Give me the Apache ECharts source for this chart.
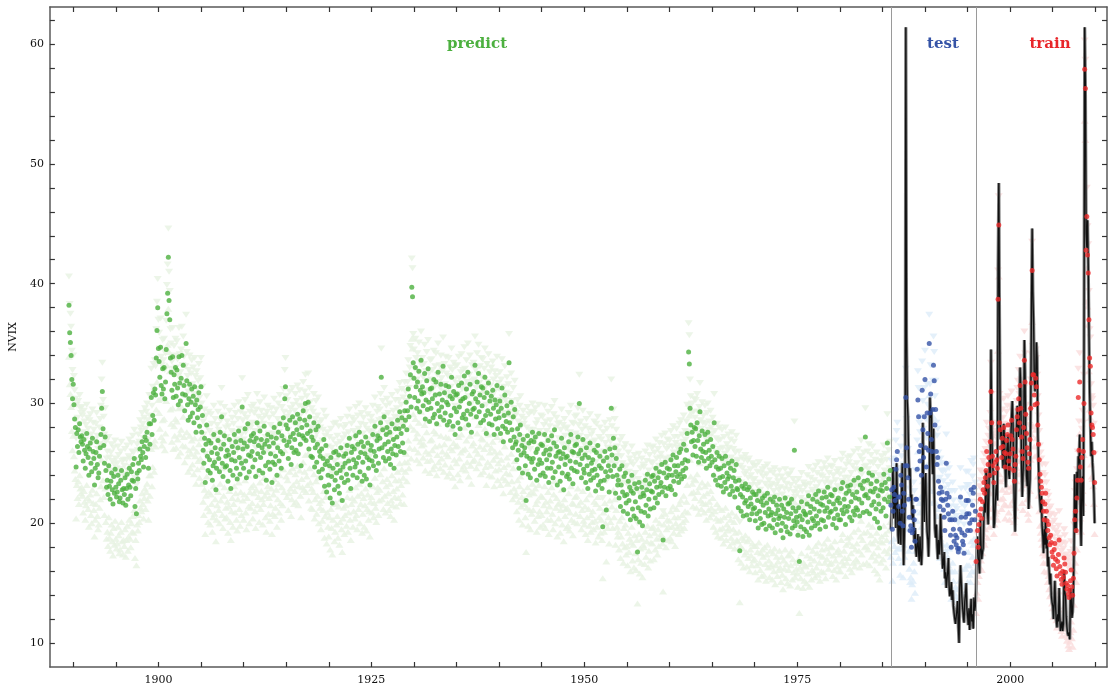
<!DOCTYPE html>
<html>
<head>
<meta charset="utf-8">
<script src="https://cdn.jsdelivr.net/npm/echarts@6/dist/echarts.min.js"></script>
<style>
  html, body { margin: 0; background: #fff; }
  #chart { width: 1109px; height: 689px; }
</style>
</head>
<body>
<div id="chart"></div>
<script>
// monthly NVIX, predicted (out of sample, before 1986)
const predictStart = 1889.5;
const predictVals = [
  38.2,35.9,35.1,34.0,32.0,30.4,
  31.6,29.9,28.7,28.0,24.7,27.5,26.4,27.8,25.9,28.3,27.2,26.8,
  27.3,26.6,25.2,27.0,26.1,24.6,25.8,27.5,26.4,25.5,24.0,26.2,
  26.7,25.0,24.3,27.1,26.0,25.4,23.2,24.6,25.9,26.8,24.9,23.8,
  24.2,25.6,26.3,27.4,29.6,31.0,27.9,26.5,25.0,27.2,24.4,23.0,
  23.6,22.4,24.8,23.1,22.0,23.5,24.2,22.8,21.6,23.9,22.5,24.5,
  23.0,22.2,22.6,24.0,23.3,21.8,22.1,23.6,24.4,22.8,21.7,22.9,
  22.4,23.8,21.5,22.9,24.1,22.0,23.2,24.6,23.0,22.3,24.3,23.6,
  24.9,23.5,25.4,21.4,22.9,20.8,24.2,23.7,25.0,24.4,26.2,25.6,
  25.3,26.8,25.9,24.7,26.4,27.2,25.5,26.9,27.6,26.2,24.6,28.3,
  26.6,28.3,30.5,27.4,29.0,30.9,28.6,31.2,30.7,33.8,36.1,38.0,
  34.6,33.5,32.2,34.7,31.5,30.8,32.9,31.2,33.0,30.4,31.8,34.5,
  37.5,39.2,42.2,38.6,37.0,33.8,32.6,31.1,33.9,30.5,32.4,31.6,
  33.0,30.6,32.8,31.3,29.9,33.9,31.7,30.2,32.1,34.0,30.8,33.2,
  31.5,29.4,30.7,35.0,31.9,29.9,28.6,30.4,31.6,28.9,30.1,31.2,
  29.2,30.6,28.4,31.4,29.9,27.6,30.3,28.8,29.5,30.9,28.1,29.7,
  31.4,27.6,29.0,26.1,25.0,27.1,23.4,26.6,28.2,25.6,24.4,26.9,
  25.3,24.2,26.7,25.9,23.6,24.8,27.4,25.1,26.3,22.8,24.6,25.8,
  26.9,25.4,24.3,27.6,26.2,28.9,25.0,23.9,26.6,27.3,24.7,25.6,
  24.8,26.1,23.5,25.7,27.0,24.4,22.9,25.3,26.4,24.0,25.9,27.4,
  25.2,26.8,24.6,23.7,26.3,27.7,25.5,24.1,26.9,25.0,29.7,26.2,
  24.6,26.7,27.9,25.2,23.8,26.4,28.3,25.7,24.3,26.9,25.6,27.3,
  26.0,24.7,27.5,26.8,25.3,23.9,27.1,28.4,25.8,26.5,24.4,27.7,
  25.5,27.0,26.3,24.2,25.9,28.1,26.6,24.8,23.6,26.9,27.4,25.1,
  26.4,24.5,25.8,27.2,23.4,25.1,26.7,28.0,24.9,25.6,27.1,24.0,
  26.3,27.6,25.2,28.3,26.0,24.6,27.3,25.8,28.8,26.9,30.4,31.4,
  28.2,26.5,27.9,25.4,26.8,28.6,27.2,24.9,26.3,28.9,27.5,25.9,
  27.0,28.4,26.1,27.8,29.1,25.8,27.4,28.7,26.6,24.8,28.0,27.3,
  29.4,27.1,28.6,30.0,26.9,28.2,27.5,30.1,26.2,28.9,27.7,25.6,
  27.2,25.5,26.9,28.4,24.7,26.3,27.8,25.1,26.6,28.1,24.3,26.0,
  25.6,23.8,26.2,24.5,25.4,27.0,23.1,24.9,26.5,22.6,25.2,24.0,
  23.2,24.8,22.1,25.5,23.9,21.7,24.6,25.9,22.8,23.6,26.0,24.2,
  24.9,23.1,25.7,22.5,24.4,26.3,23.8,21.9,24.7,25.6,23.4,25.0,
  25.8,24.1,26.5,23.6,25.2,27.1,24.6,22.9,25.9,26.4,24.0,25.3,
  26.2,24.7,27.3,25.0,23.8,26.6,25.5,27.6,24.3,25.9,26.8,23.5,
  25.1,26.4,24.0,25.8,27.2,23.7,25.5,26.7,24.6,25.3,23.2,26.1,
  26.5,25.2,27.4,24.8,26.0,28.1,25.6,24.4,26.9,27.3,25.0,26.2,
  27.1,28.4,32.2,26.3,27.8,25.5,28.9,26.6,25.2,27.4,28.0,26.0,
  26.8,25.4,27.6,24.9,26.2,28.3,25.8,27.0,24.6,26.5,27.9,25.7,
  27.2,28.6,26.4,27.9,29.3,26.0,27.5,28.8,26.7,28.1,25.9,29.4,
  28.6,30.1,27.8,29.4,31.2,28.9,30.6,32.4,29.7,39.7,38.9,33.4,
  32.1,30.5,33.0,31.4,29.6,31.8,30.2,32.7,29.3,31.1,33.6,30.8,
  31.4,29.8,30.9,32.5,28.7,30.3,31.9,29.5,32.9,30.1,28.5,31.2,
  29.6,31.3,30.4,28.8,32.0,29.1,30.7,31.8,28.3,30.0,32.6,29.4,
  30.8,28.9,31.6,29.7,30.3,33.1,28.6,30.9,29.2,31.5,30.1,28.2,
  29.9,31.4,28.5,30.6,29.0,32.2,30.4,28.1,31.0,29.6,27.4,30.7,
  29.3,30.8,28.4,31.5,29.7,27.9,30.2,31.7,28.8,30.4,29.1,32.3,
  30.5,28.7,31.2,29.4,32.6,28.2,30.0,31.6,29.1,27.6,30.8,29.5,
  31.0,29.6,33.2,30.4,28.9,31.8,30.1,32.5,29.3,30.7,28.4,31.4,
  29.8,31.3,28.6,30.5,32.2,29.0,27.5,30.9,29.4,31.7,28.3,30.2,
  29.1,30.6,28.2,31.1,29.6,27.4,30.3,28.7,29.9,31.5,27.9,29.3,
  28.8,30.2,27.5,29.6,31.3,28.1,26.8,29.0,30.7,27.9,28.5,29.8,
  27.6,29.2,33.4,28.4,26.9,30.1,27.8,26.3,28.9,27.2,29.5,26.6,
  26.8,25.3,27.9,26.1,24.6,27.4,28.2,25.7,26.5,24.2,27.0,25.9,
  26.3,24.8,21.9,25.6,27.3,24.1,26.7,25.4,23.8,26.9,25.1,27.6,
  25.4,26.8,24.5,27.2,25.9,23.6,26.2,24.9,27.5,25.3,24.0,26.6,
  25.0,26.5,24.2,25.8,27.4,23.9,26.1,25.3,24.6,26.9,23.4,25.7,
  26.2,24.6,27.3,25.1,23.8,26.7,27.8,24.3,25.6,26.4,23.2,25.9,
  24.7,26.0,23.5,25.4,27.1,24.2,25.8,22.8,26.3,24.9,25.5,23.9,
  25.6,24.1,26.8,23.7,25.2,27.4,24.6,26.0,23.3,25.9,24.4,26.5,
  25.1,26.6,24.3,27.2,25.8,30.0,24.9,26.1,23.8,25.4,27.0,24.5,
  24.2,25.7,23.4,26.3,24.8,22.9,25.5,24.1,26.7,23.6,25.0,24.4,
  25.3,23.8,26.1,24.5,22.7,25.9,24.0,26.5,23.2,24.8,25.6,23.5,
  24.6,22.9,19.7,25.2,23.6,26.0,24.3,21.1,25.5,23.9,24.8,22.6,
  26.2,24.4,29.6,25.7,23.9,27.1,24.8,26.3,22.5,25.4,24.0,23.2,
  23.6,22.1,24.5,21.4,23.2,24.8,22.6,21.0,23.9,22.3,24.2,21.7,
  22.4,20.8,23.5,21.9,23.0,20.3,22.7,24.0,21.2,22.5,20.6,23.3,
  21.8,20.4,22.9,17.6,21.3,23.4,20.1,22.2,21.0,23.0,19.8,22.5,
  22.3,20.9,23.6,21.5,22.8,24.1,20.6,22.0,23.3,21.2,22.7,23.9,
  22.6,24.0,21.3,23.5,22.1,24.6,23.0,21.7,23.8,22.4,24.3,23.1,
  23.4,24.9,22.6,18.6,24.2,23.0,25.1,22.3,23.8,24.6,22.9,24.0,
  24.5,23.1,25.3,22.8,24.0,25.7,23.5,24.8,22.4,24.3,25.5,23.9,
  24.8,23.4,25.9,24.1,26.2,23.7,25.0,24.4,26.6,23.9,25.3,24.6,
  26.1,27.5,25.2,34.3,33.3,29.6,28.2,26.8,27.6,25.7,26.9,28.0,
  26.4,27.9,25.6,28.4,26.9,25.1,27.3,29.3,26.2,25.5,27.7,26.0,
  26.6,25.2,27.4,25.9,24.6,26.8,27.6,25.4,26.1,24.8,27.0,25.6,
  25.1,26.4,24.0,28.4,25.3,23.6,24.7,25.9,23.2,24.5,25.6,23.8,
  24.6,23.1,25.4,23.9,22.6,24.8,23.4,25.6,22.9,24.2,23.7,25.0,
  23.9,22.4,24.6,23.1,25.2,22.7,23.8,24.4,22.2,23.5,24.9,22.9,
  22.8,21.3,23.6,17.7,22.4,21.0,23.1,22.2,20.6,22.9,21.7,23.3,
  21.9,20.7,22.8,21.4,23.0,20.3,22.1,21.6,20.8,22.6,21.2,22.4,
  21.3,20.2,22.4,20.8,21.9,19.6,22.7,21.0,20.4,21.8,19.9,22.1,
  21.5,20.0,22.3,20.9,19.5,21.7,22.5,20.6,21.2,19.8,22.0,20.7,
  20.9,19.6,21.8,20.3,22.2,19.2,20.8,21.5,19.9,21.1,20.4,22.0,
  20.6,19.4,21.5,20.0,18.8,21.2,20.5,22.1,19.7,20.9,19.3,21.6,
  20.4,21.7,19.1,20.8,22.0,19.6,21.3,20.2,26.1,19.8,21.0,20.5,
  20.1,19.0,21.3,16.8,20.6,19.7,21.8,20.3,18.9,21.0,19.5,20.8,
  20.7,19.3,21.6,20.1,22.3,19.0,20.9,21.4,19.6,20.4,22.0,20.2,
  21.2,19.8,22.4,20.6,21.8,20.0,22.7,21.0,19.5,21.6,20.3,22.1,
  21.5,20.2,22.6,21.0,19.7,22.2,21.3,23.0,20.5,21.8,20.9,22.4,
  21.0,22.3,19.9,21.6,20.4,22.8,21.2,19.6,21.9,20.7,22.1,20.3,
  21.7,20.3,22.9,21.1,23.4,20.8,22.0,21.4,19.9,22.5,21.0,23.1,
  21.4,22.7,20.5,23.2,21.8,20.2,22.4,21.0,23.6,20.7,22.1,21.3,
  22.6,21.1,23.8,22.0,20.6,23.2,24.5,21.7,22.9,20.9,23.5,22.3,
  27.2,22.4,21.0,23.6,22.1,24.2,20.8,22.7,23.3,21.5,24.0,22.6,
  21.8,20.4,22.9,21.2,23.5,20.1,22.3,21.6,19.6,22.8,21.0,23.2,
  22.7,21.3,24.1,22.0,23.4,20.6,22.9,26.7,21.8,23.7,22.2,24.4
];

// test period 1986-1995
const testStart = 1986;
const testVals = [
  21.5,22.8,19.5,21.0,23.0,22.4,21.9,24.5,25.3,26.0,22.2,21.4,
  22.2,20.0,24.0,23.2,21.0,19.8,22.5,21.5,24.8,30.5,26.3,24.8,
  23.8,22.0,20.5,19.4,19.8,18.0,19.2,19.5,21.0,20.3,18.5,22.0,
  22.0,24.5,30.3,28.9,26.0,25.2,26.5,24.0,31.1,27.8,25.5,28.9,
  32.0,26.3,24.7,29.2,27.5,26.1,35.0,29.2,30.8,27.0,26.0,29.5,
  33.2,31.9,28.2,29.5,26.0,24.9,25.5,23.5,22.5,21.4,23.0,22.0,
  22.6,21.9,21.1,20.5,19.4,22.0,25.0,22.5,21.5,20.8,22.2,20.3,
  19.0,18.0,20.3,21.0,19.5,18.5,20.3,19.0,18.2,18.8,17.9,17.6,
  17.9,19.5,22.2,20.5,19.2,18.5,18.2,17.5,19.0,20.5,21.9,20.8,
  19.4,21.9,20.8,20.0,19.4,22.8,20.3,21.5,22.5,23.0,20.3,21.0
];

// train period 1996-2009
const trainStart = 1996;
const trainVals = [
  16.8,18.5,19.4,18.0,19.9,20.7,22.0,21.2,20.4,21.8,22.8,23.4,
  22.5,23.8,24.4,26.0,23.1,24.9,25.5,24.0,26.8,31.0,28.4,25.6,
  24.8,23.4,24.2,25.1,26.0,25.3,24.6,38.7,44.9,28.4,27.8,26.3,
  25.5,27.1,26.4,28.0,25.9,24.7,25.8,26.9,27.4,28.2,25.2,24.6,
  25.8,27.3,28.6,27.0,26.2,24.4,23.5,24.9,25.6,27.8,28.9,29.5,
  30.4,28.4,31.5,29.6,27.2,26.0,25.4,28.0,33.6,31.8,29.1,27.5,
  26.3,25.1,24.6,25.8,27.0,29.6,31.7,41.1,32.4,32.4,30.7,29.9,
  32.1,31.4,30.0,28.2,26.6,25.3,24.1,23.5,23.0,22.5,21.8,21.0,
  20.3,21.6,22.5,21.0,20.2,19.4,19.9,18.8,18.2,19.0,18.4,17.6,
  17.2,16.5,17.8,18.3,17.0,16.2,15.6,16.8,17.4,18.6,16.4,15.8,
  15.3,14.9,16.0,15.5,17.1,16.6,15.9,15.0,14.5,14.8,14.1,13.8,
  14.4,15.2,16.1,14.7,14.0,15.4,17.5,20.3,21.0,19.4,22.1,23.6,
  30.5,26.1,31.8,24.7,23.6,25.5,27.0,26.0,30.0,57.9,56.3,42.8,
  45.6,42.4,40.9,37.0,33.8,33.1,29.2,28.2,28.0,27.4,25.9,23.4
];

// realized VIX 1986-2009
const vixStart = 1986;
const vixVals = [
  19.5,21.0,23.5,24.7,20.4,21.8,23.0,19.6,25.0,22.1,19.0,18.3,
  21.4,19.8,18.2,22.5,25.0,20.1,16.5,19.2,22.0,61.4,35.6,30.2,
  28.9,25.5,23.8,24.6,21.9,22.4,20.3,21.5,19.8,18.4,19.6,17.8,
  17.2,18.3,19.1,17.5,16.8,18.9,17.4,16.5,18.0,28.4,22.3,20.1,
  23.6,24.2,21.0,19.3,18.6,17.2,19.5,30.5,28.8,29.6,25.4,24.1,
  27.9,22.7,19.6,18.8,19.9,18.1,17.0,18.6,17.4,18.2,20.8,18.9,
  17.4,16.2,16.8,17.6,15.4,15.9,14.6,15.3,16.0,17.1,14.8,13.9,
  14.2,15.1,13.6,14.4,13.1,12.5,12.0,11.6,12.2,12.8,13.5,11.3,
  10.0,14.6,16.5,15.2,13.8,13.0,12.2,11.7,13.4,14.1,15.0,12.9,
  12.3,11.5,12.9,11.1,12.6,13.7,11.8,12.4,11.2,13.8,12.7,13.1,
  14.5,17.8,18.9,17.2,16.5,15.8,20.3,18.1,17.0,17.6,17.9,20.6,
  21.8,20.9,24.4,23.6,21.0,19.9,22.7,25.3,23.8,34.5,28.1,24.9,
  24.4,19.6,20.1,21.5,22.7,23.2,21.9,41.5,48.4,37.2,28.4,27.0,
  27.8,25.9,24.6,28.3,27.1,24.4,23.0,25.8,26.5,27.4,24.1,23.7,
  26.3,27.1,28.9,30.2,28.4,24.0,21.3,19.3,22.9,27.6,29.8,28.1,
  27.2,28.6,33.0,31.1,24.9,22.2,23.8,25.7,35.3,32.6,26.9,24.0,
  23.1,24.8,21.2,22.4,23.7,29.8,37.6,44.6,39.3,36.8,32.5,31.0,
  32.0,35.1,33.8,27.6,24.9,22.7,21.8,20.9,22.3,19.8,18.9,17.5,
  19.5,18.2,20.6,17.9,18.8,16.4,17.2,16.0,14.9,15.8,14.0,13.4,
  13.1,12.0,13.4,15.2,13.0,11.9,11.3,12.4,11.8,14.6,12.1,11.0,
  11.4,11.8,11.0,11.6,16.1,14.3,13.9,12.2,11.3,10.8,10.6,10.9,
  10.3,14.6,13.8,12.1,12.6,14.2,17.9,24.1,19.8,19.2,24.3,22.0,
  25.6,25.0,27.4,20.3,18.1,23.2,23.9,20.6,33.5,61.4,56.5,44.2,
  43.0,45.3,41.6,36.2,31.0,28.4,25.6,26.8,25.1,24.0,22.5,20.0
];

// confidence band offsets
const ciUp = 2.4;
const ciDown = 4.3;

const sampleSplits = [1986, 1996];
const xTicks = [1890,1895,1900,1905,1910,1915,1920,1925,1930,1935,1940,1945,1950,1955,1960,1965,1970,1975,1980,1985,1990,1995,2000,2005,2010];
const xLabels = [1900,1925,1950,1975,2000];
const yTicks = [10,12,14,16,18,20,22,24,26,28,30,32,34,36,38,40,42,44,46,48,50,52,54,56,58,60,62];
const yLabels = [10,20,30,40,50,60];

function toPoints(start, vals, off) {
  return vals.map((v, i) => [start + i / 12, +(v + (off || 0)).toFixed(2)]);
}

const serif = '"DejaVu Serif", "Liberation Serif", serif';

function triSeries(start, vals, color, up) {
  return {
    type: 'scatter',
    data: toPoints(start, vals, up ? ciUp : -ciDown),
    symbol: 'triangle',
    symbolRotate: up ? 180 : 0,
    symbolSize: [8, 6],
    itemStyle: { color: color },
    silent: true,
    z: 1
  };
}

function dotSeries(start, vals, color) {
  return {
    type: 'scatter',
    data: toPoints(start, vals),
    symbol: 'circle',
    symbolSize: 5,
    itemStyle: { color: color },
    z: 5
  };
}

const chart = echarts.init(document.getElementById('chart'));

const axisLine = { show: true, lineStyle: { color: '#5a5a5a', width: 1.5 } };
const tickStyle = { color: '#333', width: 1.2 };

chart.setOption({
  animation: false,
  backgroundColor: '#fff',
  grid: { left: 49, right: 2, top: 7, bottom: 22 },
  xAxis: [
    {
      type: 'value', min: 1887.26, max: 2011.37,
      axisLine: axisLine,
      axisTick: { inside: true, length: 5, customValues: xTicks, lineStyle: tickStyle },
      axisLabel: { customValues: xLabels, formatter: v => String(v), fontFamily: serif, fontSize: 11, color: '#111', margin: 8 },
      splitLine: { show: false }
    },
    {
      type: 'value', position: 'top', min: 1887.26, max: 2011.37,
      axisLine: axisLine,
      axisTick: { inside: true, length: 5, customValues: xTicks, lineStyle: tickStyle },
      axisLabel: { show: false },
      splitLine: { show: false }
    }
  ],
  yAxis: [
    {
      type: 'value', min: 8, max: 63.1,
      name: 'NVIX', nameLocation: 'middle', nameGap: 30,
      nameTextStyle: { fontFamily: serif, fontSize: 11, color: '#111' },
      axisLine: axisLine,
      axisTick: { inside: true, length: 5, customValues: yTicks, lineStyle: tickStyle },
      axisLabel: { customValues: yLabels, fontFamily: serif, fontSize: 11, color: '#111', margin: 6 },
      splitLine: { show: false }
    },
    {
      type: 'value', position: 'right', min: 8, max: 63.1,
      axisLine: axisLine,
      axisTick: { inside: true, length: 5, customValues: yTicks, lineStyle: tickStyle },
      axisLabel: { show: false },
      splitLine: { show: false }
    }
  ],
  graphic: [
    { type: 'text', x: 477, y: 44, z: 100,
      style: { text: 'predict', fill: '#4cb03f', font: 'bold 15px ' + serif, align: 'center', verticalAlign: 'middle' } },
    { type: 'text', x: 943, y: 44, z: 100,
      style: { text: 'test', fill: '#3553a6', font: 'bold 15px ' + serif, align: 'center', verticalAlign: 'middle' } },
    { type: 'text', x: 1050, y: 44, z: 100,
      style: { text: 'train', fill: '#e8262a', font: 'bold 15px ' + serif, align: 'center', verticalAlign: 'middle' } }
  ],
  series: [
    triSeries(predictStart, predictVals, '#e7f3e2', true),
    triSeries(predictStart, predictVals, '#e7f3e2', false),
    triSeries(testStart, testVals, '#ddecf9', true),
    triSeries(testStart, testVals, '#ddecf9', false),
    triSeries(trainStart, trainVals, '#fadcdc', true),
    triSeries(trainStart, trainVals, '#fadcdc', false),
    {
      type: 'line',
      data: toPoints(vixStart, vixVals),
      showSymbol: false,
      lineStyle: { color: '#7a7a7a', width: 3.2 },
      silent: true,
      z: 2,
      markLine: {
        silent: true,
        symbol: 'none',
        label: { show: false },
        lineStyle: { color: '#9a9a9a', width: 1, type: 'solid' },
        data: sampleSplits.map(v => ({ xAxis: v }))
      }
    },
    {
      type: 'line',
      data: toPoints(vixStart, vixVals),
      showSymbol: false,
      lineStyle: { color: '#111', width: 1.3 },
      silent: true,
      z: 3
    },
    dotSeries(predictStart, predictVals, '#4cb03f'),
    dotSeries(testStart, testVals, '#3553a6'),
    dotSeries(trainStart, trainVals, '#ec2a2a')
  ]
});

window.addEventListener('resize', () => chart.resize());
</script>
</body>
</html>
